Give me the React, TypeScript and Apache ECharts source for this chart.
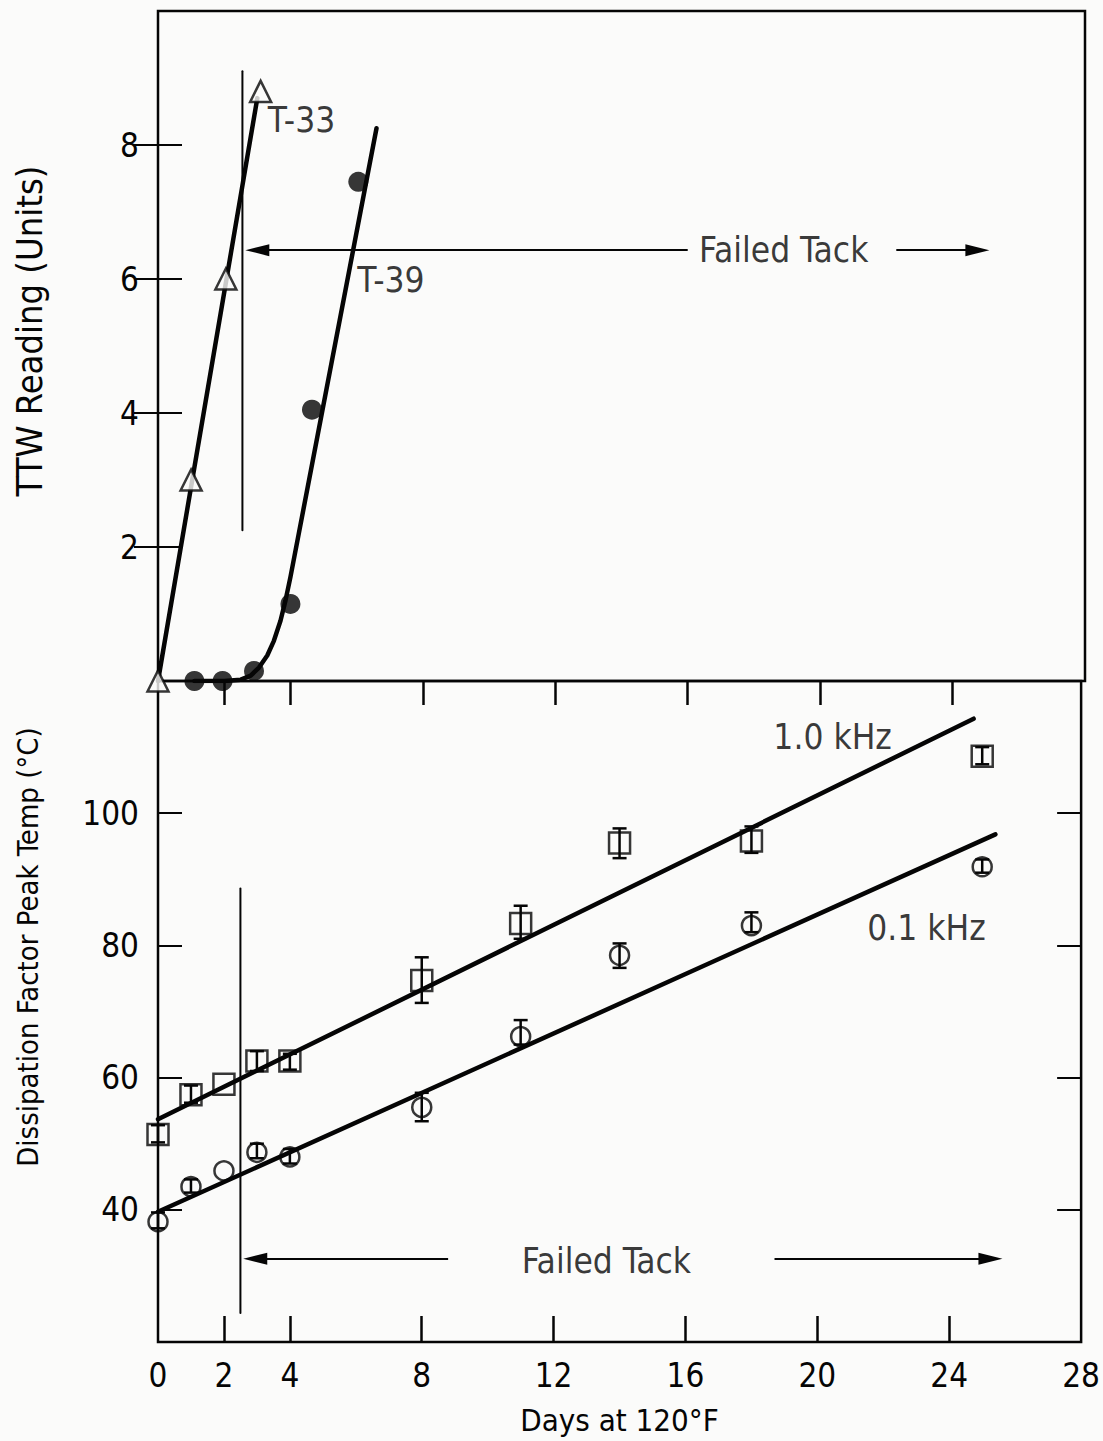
import React, { useEffect, useRef } from "react";
import * as echarts from "echarts";

// ---------- data ----------
// top panel (TTW reading)
const t33Days = [0, 1, 2.05, 3.1];
const t33Vals = [0, 3, 6, 8.8];
const t39Days = [1.1, 1.95, 2.9, 4.0, 4.65, 6.05];
const t39Vals = [0, 0, 0.15, 1.15, 4.05, 7.45];
const t33FitDays = [0, 3.0];
const t33FitVals = [0, 8.7];
const t39FitDays = [1.1, 2.0, 2.5, 2.8, 3.05, 3.3, 3.5, 3.7, 3.85, 4.0, 6.6];
const t39FitVals = [0, 0, 0.02, 0.08, 0.2, 0.38, 0.6, 0.9, 1.2, 1.55, 8.25];

// bottom panel (dissipation factor peak temp)
const days = [0, 1, 2, 3, 4, 8, 11, 14, 18, 25];
const khz10 = [51.4, 57.4, 59.0, 62.5, 62.5, 74.7, 83.3, 95.5, 95.8, 108.6];
const khz01 = [38.2, 43.5, 45.9, 48.7, 48.0, 55.5, 66.2, 78.5, 83.0, 91.9];
const khz10Lo = [50.2, 56.2, null, 61.0, 61.2, 71.3, 81.0, 93.2, 94.0, 107.4];
const khz10Hi = [52.8, 58.8, null, 64.0, 63.6, 78.2, 86.0, 97.7, 98.0, 110.0];
const khz01Lo = [37.2, 42.6, null, 47.8, 47.0, 53.4, 65.0, 76.6, 82.0, 91.0];
const khz01Hi = [39.6, 44.6, null, 50.0, 49.2, 57.7, 68.7, 80.3, 85.0, 93.0];
const fit10Days = [0, 24.74];
const fit10Vals = [53.7, 114.3];
const fit01Days = [0, 25.4];
const fit01Vals = [39.7, 96.8];

// axis ticks / labels
const xLabelValues = [0, 2, 4, 8, 12, 16, 20, 24, 28];
const xTickValues = [2, 4, 8, 12, 16, 20, 24];
const topYLabels = [2, 4, 6, 8];
const bottomYLabels = [40, 60, 80, 100];

// reference lines / annotations
const failDay = 2.55;
const topVLine = [2.25, 9.1];
const bottomVLine = [24.4, 88.6];
const topArrowY = 6.43;
const topArrowLeft = [16.0, 3.0];
const topArrowRight = [22.3, 24.75];
const bottomArrowY = 32.6;
const bottomArrowLeft = [8.8, 2.95];
const bottomArrowRight = [18.7, 25.25];

const FONT = '"Liberation Sans Narrow","DejaVu Sans Condensed","Open Sans",sans-serif';
const INK = "#050505";
const BG = "#fbfbfa";

const zip = (a: number[], b: (number | null)[]) => a.map((v, i) => [v, b[i]]);

export default function App() {
  const ref = useRef<HTMLDivElement>(null);
  useEffect(() => {
    if (!ref.current) return;
    const chart = echarts.init(ref.current, null, { renderer: "svg" });

    const errData = (lo: (number | null)[], hi: (number | null)[]) =>
      days
        .map((d, i) => (lo[i] == null ? null : [d, lo[i], hi[i]]))
        .filter((x) => x != null);

    const errRender = (params: any, api: any) => {
      const x = api.value(0);
      const pl = api.coord([x, api.value(1)]);
      const ph = api.coord([x, api.value(2)]);
      const w = 7;
      const st = { stroke: INK, lineWidth: 2.5 };
      return {
        type: "group",
        children: [
          { type: "line", shape: { x1: pl[0], y1: pl[1], x2: ph[0], y2: ph[1] }, style: st },
          { type: "line", shape: { x1: pl[0] - w, y1: pl[1], x2: pl[0] + w, y2: pl[1] }, style: st },
          { type: "line", shape: { x1: ph[0] - w, y1: ph[1], x2: ph[0] + w, y2: ph[1] }, style: st },
        ],
      };
    };

    const lineS = (xi: number, yi: number, data: any[], width = 4.5) => ({
      type: "line",
      xAxisIndex: xi,
      yAxisIndex: yi,
      data,
      symbol: "none",
      smooth: false,
      lineStyle: { color: INK, width, cap: "round", join: "round" },
      silent: true,
      z: 3,
    });

    const arrow = (xi: number, yi: number, y: number, from: number, to: number) => ({
      type: "line",
      xAxisIndex: xi,
      yAxisIndex: yi,
      data: [],
      markLine: {
        silent: true,
        animation: false,
        symbol: ["none", "triangle"],
        symbolSize: [12, 24],
        label: { show: false },
        lineStyle: { color: INK, width: 2, type: "solid" },
        itemStyle: { color: INK },
        data: [[{ coord: [from, y] }, { coord: [to, y] }]],
      },
    });

    const textS = (xi: number, yi: number, items: any[]) => ({
      type: "scatter",
      xAxisIndex: xi,
      yAxisIndex: yi,
      symbolSize: 1,
      itemStyle: { color: "rgba(0,0,0,0)" },
      silent: true,
      data: items.map((it) => ({
        value: [it.x, it.y],
        label: {
          show: true,
          formatter: it.text,
          position: it.pos || "right",
          distance: 0,
          color: INK,
          fontFamily: FONT,
          fontSize: it.size || 35,
        },
      })),
    });

    const yAxisCommon = {
      type: "value",
      axisLine: { show: false },
      splitLine: { show: false },
      axisTick: { show: true, inside: true, length: 24, lineStyle: { color: INK, width: 2 } },
    };

    const option: any = {
      animation: false,
      backgroundColor: BG,
      grid: [
        { left: 158, right: 18, top: 11, height: 670, show: true, borderColor: INK, borderWidth: 2.5, backgroundColor: "transparent" },
        { left: 158, right: 18, top: 681, height: 661, show: true, borderColor: INK, borderWidth: 2.5, backgroundColor: "transparent" },
      ],
      xAxis: [
        {
          type: "value", gridIndex: 0, position: "bottom", min: 0, max: 28,
          axisLine: { show: false }, axisTick: { show: false }, axisLabel: { show: false }, splitLine: { show: false },
        },
        {
          type: "value", gridIndex: 0, position: "top", min: 0, max: 28,
          axisLine: { show: false }, splitLine: { show: false }, axisLabel: { show: false },
          axisTick: { show: true, inside: true, length: 24, customValues: xTickValues, lineStyle: { color: INK, width: 2.5 } },
        },
        {
          type: "value", gridIndex: 1, position: "bottom", min: 0, max: 28,
          axisLine: { show: false }, splitLine: { show: false },
          axisTick: { show: true, inside: true, length: 26, customValues: xTickValues, lineStyle: { color: INK, width: 2.5 } },
          axisLabel: { customValues: xLabelValues, color: INK, fontFamily: FONT, fontSize: 33, margin: 17 },
          name: "Days at 120°F",
          nameLocation: "middle",
          nameGap: 62,
          nameTextStyle: { color: INK, fontFamily: FONT, fontSize: 31 },
        },
      ],
      yAxis: [
        {
          ...yAxisCommon, gridIndex: 0, position: "left", min: 0, max: 10,
          axisTick: { ...yAxisCommon.axisTick, customValues: topYLabels },
          axisLabel: { customValues: topYLabels, color: INK, fontFamily: FONT, fontSize: 33, margin: 19 },
        },
        {
          ...yAxisCommon, gridIndex: 0, position: "right", min: 0, max: 10,
          axisTick: { ...yAxisCommon.axisTick, customValues: topYLabels },
          axisLabel: { show: false },
        },
        {
          ...yAxisCommon, gridIndex: 1, position: "left", min: 20, max: 120,
          axisTick: { ...yAxisCommon.axisTick, customValues: bottomYLabels },
          axisLabel: { customValues: bottomYLabels, color: INK, fontFamily: FONT, fontSize: 33, margin: 19 },
        },
        {
          ...yAxisCommon, gridIndex: 1, position: "right", min: 20, max: 120,
          axisTick: { ...yAxisCommon.axisTick, customValues: bottomYLabels },
          axisLabel: { show: false },
        },
      ],
      graphic: [
        {
          type: "text",
          style: { text: "TTW Reading (Units)", fill: INK, font: `36px ${FONT}`, align: "center", verticalAlign: "middle" },
          rotation: Math.PI / 2, x: 29, y: 331,
        },
        {
          type: "text",
          style: { text: "Dissipation Factor Peak Temp (°C)", fill: INK, font: `29px ${FONT}`, align: "center", verticalAlign: "middle" },
          rotation: Math.PI / 2, x: 28, y: 947,
        },
      ],
      series: [
        // ---- top panel ----
        lineS(0, 0, zip(t33FitDays, t33FitVals)),
        lineS(0, 0, zip(t39FitDays, t39FitVals)),
        lineS(0, 0, [[failDay, topVLine[0]], [failDay, topVLine[1]]], 2),
        arrow(0, 0, topArrowY, topArrowLeft[0], topArrowLeft[1]),
        arrow(0, 0, topArrowY, topArrowRight[0], topArrowRight[1]),
        {
          type: "scatter", xAxisIndex: 0, yAxisIndex: 0, name: "T-33",
          data: zip(t33Days, t33Vals), symbol: "triangle", symbolSize: 21,
          itemStyle: { color: BG, borderColor: INK, borderWidth: 2.5 }, z: 5,
        },
        {
          type: "scatter", xAxisIndex: 0, yAxisIndex: 0, name: "T-39",
          data: zip(t39Days, t39Vals), symbol: "circle", symbolSize: 20,
          itemStyle: { color: INK }, z: 5,
        },
        textS(0, 0, [
          { x: 3.3, y: 8.37, text: "T-33" },
          { x: 6.0, y: 5.98, text: "T-39" },
          { x: 18.9, y: topArrowY, text: "Failed Tack", pos: "inside" },
        ]),
        // ---- bottom panel ----
        lineS(2, 2, zip(fit10Days, fit10Vals)),
        lineS(2, 2, zip(fit01Days, fit01Vals)),
        lineS(2, 2, [[failDay - 0.05, bottomVLine[0]], [failDay - 0.05, bottomVLine[1]]], 2),
        arrow(2, 2, bottomArrowY, bottomArrowLeft[0], bottomArrowLeft[1]),
        arrow(2, 2, bottomArrowY, bottomArrowRight[0], bottomArrowRight[1]),
        {
          type: "custom", xAxisIndex: 2, yAxisIndex: 2, renderItem: errRender,
          data: errData(khz10Lo, khz10Hi), encode: { x: 0, y: [1, 2] }, z: 4, silent: true,
        },
        {
          type: "custom", xAxisIndex: 2, yAxisIndex: 2, renderItem: errRender,
          data: errData(khz01Lo, khz01Hi), encode: { x: 0, y: [1, 2] }, z: 4, silent: true,
        },
        {
          type: "scatter", xAxisIndex: 2, yAxisIndex: 2, name: "1.0 kHz",
          data: zip(days, khz10), symbol: "rect", symbolSize: 21,
          itemStyle: { color: "rgba(0,0,0,0)", borderColor: INK, borderWidth: 2.5 }, z: 5,
        },
        {
          type: "scatter", xAxisIndex: 2, yAxisIndex: 2, name: "0.1 kHz",
          data: zip(days, khz01), symbol: "circle", symbolSize: 19,
          itemStyle: { color: "rgba(0,0,0,0)", borderColor: INK, borderWidth: 2.5 }, z: 5,
        },
        textS(2, 2, [
          { x: 18.65, y: 111.6, text: "1.0 kHz" },
          { x: 21.5, y: 82.7, text: "0.1 kHz" },
          { x: 13.6, y: 32.3, text: "Failed Tack", pos: "inside" },
        ]),
      ],
    };
    chart.setOption(option);
    return () => chart.dispose();
  }, []);

  return (
    <div
      ref={ref}
      style={{ position: "fixed", left: 0, top: 0, width: 1103, height: 1441, background: BG }}
    />
  );
}
